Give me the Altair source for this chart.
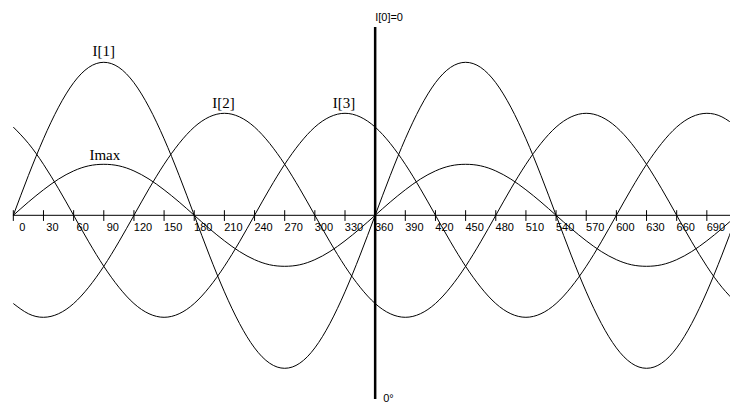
import altair as alt
import pandas as pd

# angles (degrees), 15 degree steps from 0 to 720
degrees = list(range(0, 721, 15))

# values (unit = Imax amplitude)
i1 = [0, 0.78, 1.5, 2.12, 2.6, 2.9, 3, 2.9, 2.6, 2.12, 1.5, 0.78,
      0, -0.78, -1.5, -2.12, -2.6, -2.9, -3, -2.9, -2.6, -2.12, -1.5, -0.78,
      0, 0.78, 1.5, 2.12, 2.6, 2.9, 3, 2.9, 2.6, 2.12, 1.5, 0.78,
      0, -0.78, -1.5, -2.12, -2.6, -2.9, -3, -2.9, -2.6, -2.12, -1.5, -0.78, 0]
i2 = [-1.73, -1.93, -2, -1.93, -1.73, -1.41, -1, -0.52, 0, 0.52, 1, 1.41,
      1.73, 1.93, 2, 1.93, 1.73, 1.41, 1, 0.52, 0, -0.52, -1, -1.41,
      -1.73, -1.93, -2, -1.93, -1.73, -1.41, -1, -0.52, 0, 0.52, 1, 1.41,
      1.73, 1.93, 2, 1.93, 1.73, 1.41, 1, 0.52, 0, -0.52, -1, -1.41, -1.73]
i3 = [1.73, 1.41, 1, 0.52, 0, -0.52, -1, -1.41, -1.73, -1.93, -2, -1.93,
      -1.73, -1.41, -1, -0.52, 0, 0.52, 1, 1.41, 1.73, 1.93, 2, 1.93,
      1.73, 1.41, 1, 0.52, 0, -0.52, -1, -1.41, -1.73, -1.93, -2, -1.93,
      -1.73, -1.41, -1, -0.52, 0, 0.52, 1, 1.41, 1.73, 1.93, 2, 1.93, 1.73]
imax = [0, 0.26, 0.5, 0.71, 0.87, 0.97, 1, 0.97, 0.87, 0.71, 0.5, 0.26,
        0, -0.26, -0.5, -0.71, -0.87, -0.97, -1, -0.97, -0.87, -0.71, -0.5, -0.26,
        0, 0.26, 0.5, 0.71, 0.87, 0.97, 1, 0.97, 0.87, 0.71, 0.5, 0.26,
        0, -0.26, -0.5, -0.71, -0.87, -0.97, -1, -0.97, -0.87, -0.71, -0.5, -0.26, 0]

tick_values = list(range(0, 721, 30))
tick_labels = [str(v) for v in range(0, 691, 30)]

curve_names = ["I[1]", "I[2]", "I[3]", "Imax"]
curve_label_x = [90, 209, 329, 91]
curve_label_y = [3.22, 2.2, 2.2, 1.18]

rows = []
for name, vals in zip(curve_names, [i1, i2, i3, imax]):
    for d, v in zip(degrees, vals):
        rows.append({"deg": d, "val": v, "series": name})
curves_df = pd.DataFrame(rows)

W = 722
H = 397
PXX = 1.00509
PX = 51.0
X_MIN = -5.3
X_MAX = X_MIN + W / PXX
Y_TOP = (215.3 - 8) / PX
Y_BOT = -(8 + H - 215.3) / PX

xs = alt.Scale(domain=[X_MIN, X_MAX], nice=False, zero=False)
ys = alt.Scale(domain=[Y_BOT, Y_TOP], nice=False, zero=False)

curves = alt.Chart(curves_df).mark_line(
    interpolate="natural", strokeWidth=1, color="black", clip=True
).encode(
    x=alt.X("deg:Q", scale=xs, axis=None),
    y=alt.Y("val:Q", scale=ys, axis=None),
    detail="series:N",
)

axis_df = pd.DataFrame({"x0": [0], "x1": [720], "y": [0]})
axis_line = alt.Chart(axis_df).mark_rule(color="black", strokeWidth=1, clip=True).encode(
    x=alt.X("x0:Q", scale=xs, axis=None),
    x2="x1:Q",
    y=alt.Y("y:Q", scale=ys, axis=None),
)

ticks_df = pd.DataFrame({"t": tick_values, "lo": [-0.11] * len(tick_values),
                         "hi": [0.1] * len(tick_values)})
ticks = alt.Chart(ticks_df).mark_rule(color="black", strokeWidth=1, clip=True).encode(
    x=alt.X("t:Q", scale=xs, axis=None),
    y=alt.Y("lo:Q", scale=ys, axis=None),
    y2="hi:Q",
)

labels_df = pd.DataFrame({"t": list(range(0, 691, 30)), "lab": tick_labels,
                          "y": [0] * len(tick_labels)})
tick_text = alt.Chart(labels_df).mark_text(
    font="Liberation Sans", fontSize=11, align="center", baseline="middle",
    dx=9, dy=12.5, color="black"
).encode(
    x=alt.X("t:Q", scale=xs, axis=None),
    y=alt.Y("y:Q", scale=ys, axis=None),
    text="lab:N",
)

cl_df = pd.DataFrame({"x": curve_label_x, "y": curve_label_y, "lab": curve_names})
curve_text = alt.Chart(cl_df).mark_text(
    font="Liberation Serif", fontSize=15, align="center", baseline="middle",
    color="black"
).encode(
    x=alt.X("x:Q", scale=xs, axis=None),
    y=alt.Y("y:Q", scale=ys, axis=None),
    text="lab:N",
)

vline_df = pd.DataFrame({"x": [360], "y0": [Y_BOT + 0.12], "y1": [3.69]})
vline = alt.Chart(vline_df).mark_rule(color="black", strokeWidth=2.5).encode(
    x=alt.X("x:Q", scale=xs, axis=None),
    y=alt.Y("y0:Q", scale=ys, axis=None),
    y2="y1:Q",
)

top_df = pd.DataFrame({"x": [360], "y": [3.87], "lab": ["I[0]=0"]})
top_text = alt.Chart(top_df).mark_text(
    font="Liberation Sans", fontSize=11, align="left", baseline="middle",
    dx=0, color="black"
).encode(
    x=alt.X("x:Q", scale=xs, axis=None),
    y=alt.Y("y:Q", scale=ys, axis=None),
    text="lab:N",
)

bot_df = pd.DataFrame({"x": [360], "y": [Y_BOT], "lab": ["0°"]})
bot_text = alt.Chart(bot_df).mark_text(
    font="Liberation Sans", fontSize=11, align="left", baseline="bottom",
    dx=8, dy=-1, color="black"
).encode(
    x=alt.X("x:Q", scale=xs, axis=None),
    y=alt.Y("y:Q", scale=ys, axis=None),
    text="lab:N",
)

chart = alt.layer(
    curves, axis_line, ticks, tick_text, curve_text, vline, top_text, bot_text
).properties(
    width=W, height=H, padding=0, background="white"
).configure_view(strokeWidth=0)

chart.save("out.html", embed_options={"renderer": "svg", "actions": False})
